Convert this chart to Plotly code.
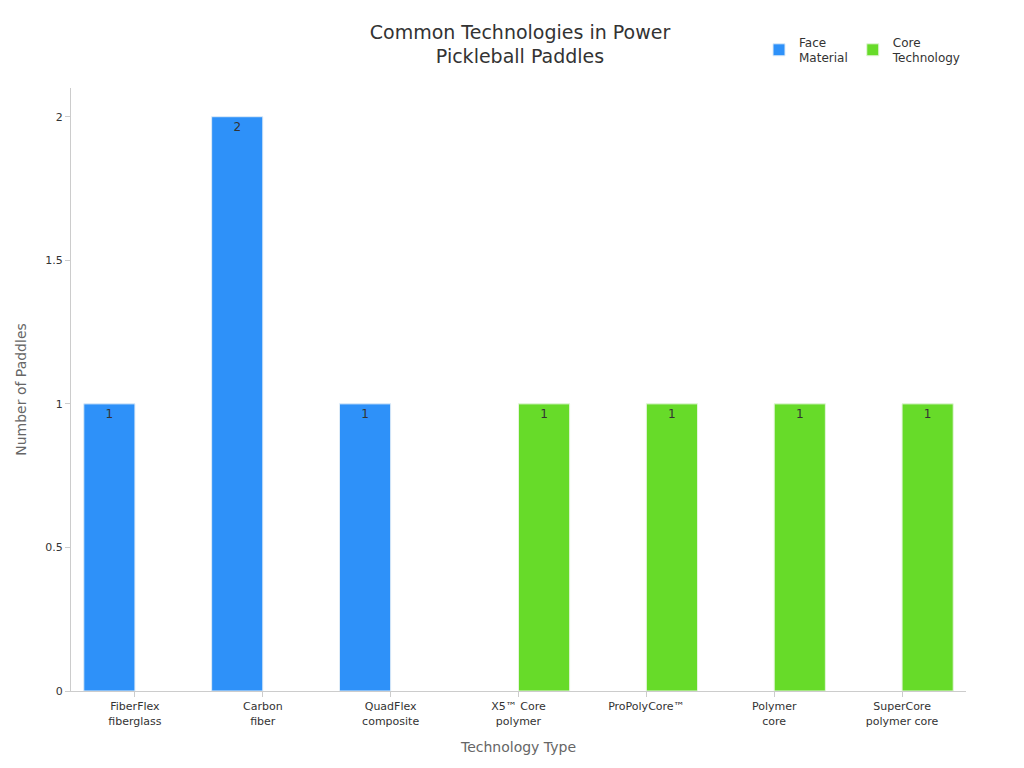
import plotly.graph_objects as go

categories = ["FiberFlex<br>fiberglass", "Carbon<br>fiber", "QuadFlex<br>composite",
              "X5™ Core<br>polymer", "ProPolyCore™", "Polymer<br>core", "SuperCore<br>polymer core"]
face_material = [1, 2, 1, None, None, None, None]
core_technology = [None, None, None, 1, 1, 1, 1]

FONT = "DejaVu Sans, sans-serif"

fig = go.Figure()
fig.add_trace(go.Bar(
    x=categories, y=face_material, name="Face<br>Material",
    marker=dict(color="#2E91F9", line=dict(color="#DDEBF7", width=1)),
    text=face_material, textposition="inside", insidetextanchor="end",
    textfont=dict(color="#333333", size=12),
))
fig.add_trace(go.Bar(
    x=categories, y=core_technology, name="Core<br>Technology",
    marker=dict(color="#67DB29", line=dict(color="#E3F5DA", width=1)),
    text=core_technology, textposition="inside", insidetextanchor="end",
    textfont=dict(color="#333333", size=12),
))

fig.update_layout(
    width=1024, height=768,
    barmode="group", bargap=0.2,
    title=dict(text="Common Technologies in Power<br>Pickleball Paddles", x=0.5, y=0.96,
               font=dict(size=19, color="#333333", family=FONT)),
    font=dict(family=FONT, size=11, color="#333333"),
    paper_bgcolor="white", plot_bgcolor="white",
    margin=dict(l=60, r=66, t=80, b=85),
    legend=dict(orientation="h", x=1.0, xanchor="right", y=1.1, yanchor="top",
                font=dict(size=12), itemwidth=30),
    xaxis=dict(title=dict(text="Technology Type", font=dict(size=14, color="#666666")),
               showline=True, linecolor="#CCCCCC", ticks="outside", tickcolor="#CCCCCC"),
    yaxis=dict(title=dict(text="Number of Paddles", font=dict(size=14, color="#666666")),
               range=[0, 2.1], dtick=0.5, showgrid=False, zeroline=False,
               showline=True, linecolor="#CCCCCC", ticks="outside", tickcolor="#CCCCCC"),
)

fig.write_html("out.html")
